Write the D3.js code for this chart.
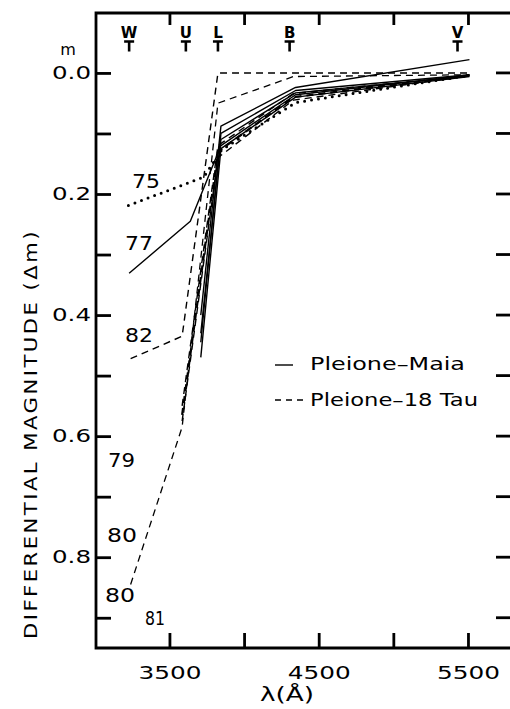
<!DOCTYPE html>
<html><head><meta charset="utf-8">
<script src="https://cdn.jsdelivr.net/npm/d3@7"></script>
<style>
html,body{margin:0;padding:0;background:#fff;overflow:hidden;width:510px;height:709px;}
svg{display:block;}
text{font-family:"DejaVu Sans",sans-serif;fill:#000;}
</style></head>
<body>
<script>
// ---- data ----
const bandNames = ["W","U","L","B","V"];
const bandLabelLambda = [3230, 3610, 3825, 4305, 5430];

const yTicks = [0,0.1,0.2,0.3,0.4,0.5,0.6,0.7,0.8,0.9];
const yTickLabels = ["0.0","","0.2","","0.4","","0.6","","0.8",""];
const xTicks = [3500,4000,4500,5000,5500];
const xTickLabels = ["3500","","4500","","5500"];

// Pleione - Maia (solid)
const maia77Lambda = [3230, 3640, 3845, 4345, 5510];
const maia77 = [0.331, 0.245, 0.12, 0.036, 0.004];
const maiaSteepLambda = [3230, 3710, 3845, 4345, 5510];
const maiaA = [null, 0.40, 0.088, 0.024, -0.022];
const maiaB = [null, 0.445, 0.100, 0.029, 0.003];
const maiaC = [null, 0.43, 0.110, 0.033, 0.005];
const maiaD = [null, 0.47, 0.125, 0.040, 0.006];

// Pleione - 18 Tau (dashed)
const tauLambda = [3240, 3585, 3825, 4330, 5510];
const tau82 = [0.472, 0.435, 0.0, 0.0, 0.0];
const tau80 = [0.845, 0.585, 0.05, 0.006, 0.003];
const tau79 = [null, 0.55, 0.12, 0.034, 0.004];
const tau80b = [null, 0.565, 0.13, 0.04, 0.004];
const tau81 = [null, 0.575, 0.14, 0.045, 0.005];

// 1975 (dotted)
const dot75Lambda = [3225, 3730, 3850, 4345, 5510];
const dot75 = [0.219, 0.172, 0.127, 0.049, 0.004];

// year annotations
const yearText = ["75","77","82","79","80","80","81"];
const yearLambda = [3249, 3202, 3202, 3088, 3082, 3068, 3336];
const yearMag = [0.190, 0.293, 0.445, 0.651, 0.775, 0.874, 0.912];
const yearWidth = [28, 28, 28, 27, 30, 30, 20];

const legendText = ["Pleione\u2013Maia", "Pleione\u201318 Tau"];

// ---- chart ----
const W = 510, H = 709;
const svg = d3.select("body").append("svg").attr("width", W).attr("height", H);
const pL = 96, pR = 512, pT = 13, pB = 648;
const x = d3.scaleLinear().domain([3008, 5795]).range([pL, pR]);
const y = d3.scaleLinear().domain([-0.099, 0.95]).range([pT, pB]);

// axes
const gL = svg.append("g").attr("transform", `translate(${pL},0)`)
  .call(d3.axisLeft(y).tickValues(yTicks).tickSize(-15).tickPadding(5)
    .tickFormat((d,i)=>yTickLabels[i]));
const gB = svg.append("g").attr("transform", `translate(0,${pB})`)
  .call(d3.axisBottom(x).tickValues(xTicks).tickSize(-15).tickPadding(18)
    .tickFormat((d,i)=>xTickLabels[i]));
const gT = svg.append("g").attr("transform", `translate(0,${pT})`)
  .call(d3.axisTop(x).tickValues(xTicks).tickSize(-12).tickFormat(""));
[gL,gB,gT].forEach(g=>{
  g.select(".domain").remove();
  g.selectAll(".tick line").attr("stroke","#000").attr("stroke-width",2.8);
});
gL.selectAll(".tick text").attr("font-size",18).attr("fill","#000")
  .attr("lengthAdjust","spacingAndGlyphs")
  .attr("textLength", d=>yTickLabels[yTicks.indexOf(d)] ? 39 : null);
gB.selectAll(".tick text").attr("font-size",18).attr("fill","#000")
  .attr("lengthAdjust","spacingAndGlyphs")
  .attr("textLength", d=>xTickLabels[xTicks.indexOf(d)] ? 63 : null);

// right-hand inner ticks
svg.append("g").selectAll("line").data(yTicks).join("line")
  .attr("x1", W - 14).attr("x2", W)
  .attr("y1", d=>y(d)).attr("y2", d=>y(d))
  .attr("stroke","#000").attr("stroke-width",2.8);

// frame
svg.append("path").attr("fill","none").attr("stroke","#000").attr("stroke-width",2.8)
  .attr("d", `M${pR},${pT}H${pL}V${pB}H${pR}`);

// superscript m
svg.append("text").attr("x", 68).attr("y", y(0) - 18).attr("font-size", 16)
  .attr("text-anchor","middle").text("m");

// top filter labels, each with a T-shaped position mark below
bandNames.forEach((b,i)=>{
  const cx = x(bandLabelLambda[i]);
  svg.append("text").attr("x", cx).attr("y", 38).attr("text-anchor","middle")
    .attr("font-size",15).attr("font-weight","bold").text(b);
  svg.append("path").attr("d", `M${cx-5},41.5H${cx+5}M${cx},41.5V51.5`)
    .attr("stroke","#000").attr("stroke-width",2.6).attr("fill","none");
});

// lines
const line = d3.line().x(d=>x(d[0])).y(d=>y(d[1]));
function pts(lams, mags){ return lams.map((l,i)=>[l,mags[i]]).filter(p=>p[1]!==null); }
function draw(lams, mags, style, sw){
  const p = svg.append("path").attr("d", line(pts(lams,mags)))
    .attr("fill","none").attr("stroke","#000").attr("stroke-width", sw)
    .attr("stroke-linejoin","round");
  if (style==="dash") p.attr("stroke-dasharray","7,5");
  if (style==="dot") p.attr("stroke-dasharray","0,7").attr("stroke-linecap","round");
  return p;
}
draw(maia77Lambda, maia77, "solid", 1.4);
[maiaA, maiaB, maiaC, maiaD].forEach(s=>draw(maiaSteepLambda, s, "solid", 1.4));
draw(tauLambda, tau82, "dash", 1.4);
draw(tauLambda, tau80, "dash", 1.3);
draw(tauLambda, tau79, "dash", 1.4);
draw(tauLambda, tau80b, "dash", 2.2);
draw(tauLambda, tau81, "dash", 1.4);
draw(dot75Lambda, dot75, "dot", 3);

// year labels
yearText.forEach((t,i)=>{
  svg.append("text").attr("x", x(yearLambda[i])).attr("y", y(yearMag[i]))
    .attr("font-size",19).attr("lengthAdjust","spacingAndGlyphs")
    .attr("textLength",yearWidth[i]).text(t);
});

// legend
svg.append("line").attr("x1",275).attr("x2",293).attr("y1",365).attr("y2",365)
  .attr("stroke","#000").attr("stroke-width",1.4);
svg.append("text").attr("x",310).attr("y",370).attr("font-size",17)
  .attr("lengthAdjust","spacingAndGlyphs").attr("textLength",155).text(legendText[0]);
svg.append("line").attr("x1",275).attr("x2",305).attr("y1",400).attr("y2",400)
  .attr("stroke","#000").attr("stroke-width",1.4).attr("stroke-dasharray","6,5");
svg.append("text").attr("x",310).attr("y",406).attr("font-size",17)
  .attr("lengthAdjust","spacingAndGlyphs").attr("textLength",168).text(legendText[1]);

// axis titles
svg.append("text").attr("transform","translate(37,434) rotate(-90)")
  .attr("text-anchor","middle").attr("font-size",17).attr("letter-spacing",2)
  .attr("lengthAdjust","spacingAndGlyphs").attr("textLength",410)
  .text("DIFFERENTIAL MAGNITUDE (\u0394m)");
svg.append("text").attr("x",287).attr("y",701).attr("text-anchor","middle")
  .attr("font-size",19).attr("lengthAdjust","spacingAndGlyphs").attr("textLength",54)
  .text("\u03bb(\u00c5)");
</script>
</body></html>
